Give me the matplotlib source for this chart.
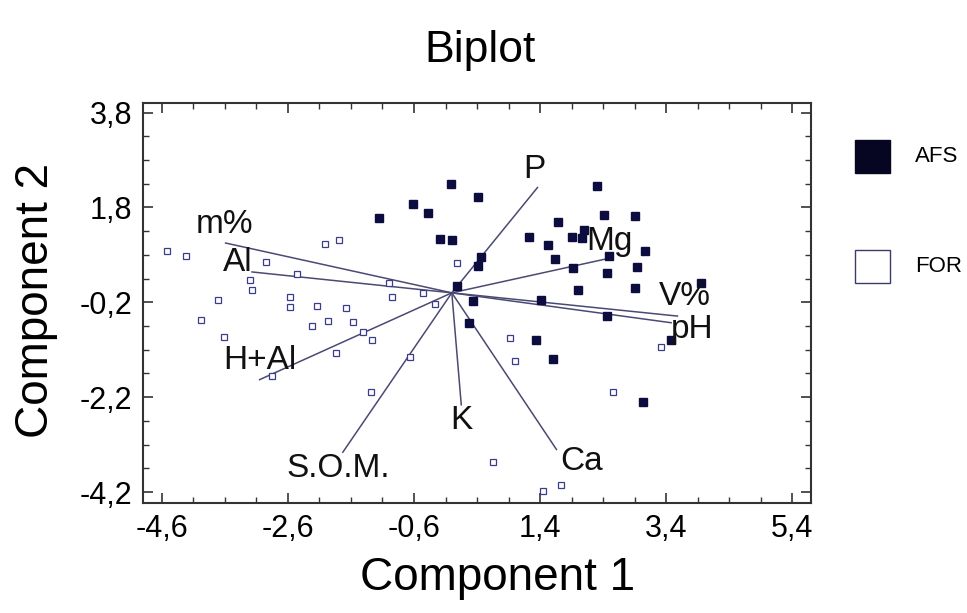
import numpy as np
import matplotlib
matplotlib.use("Agg")
import matplotlib.pyplot as plt
from matplotlib.patches import Rectangle
from matplotlib.ticker import FixedLocator, FuncFormatter

# scores, group AFS (filled squares)
afs_x = [-1.16, -0.62, -0.37, -0.02, 0.42, -0.18, 0.00, 0.46, 0.42, 0.09,
         0.33, 0.28, 1.23, 1.53, 1.64, 1.68, 1.42, 1.34, 2.31, 2.42,
         2.90, 1.90, 2.07, 2.10, 3.07, 2.50, 1.93, 2.94, 2.47, 2.01,
         2.90, 3.96, 2.47, 1.60, 3.48, 3.04]
afs_y = [1.57, 1.87, 1.68, 2.29, 2.01, 1.13, 1.11, 0.75, 0.56, 0.14,
         -0.17, -0.63, 1.17, 1.01, 0.71, 1.49, -0.15, -0.99, 2.25, 1.64,
         1.62, 1.17, 1.15, 1.32, 0.88, 0.77, 0.52, 0.54, 0.42, 0.06,
         0.10, 0.21, -0.49, -1.39, -0.99, -2.31]

# scores, group FOR (open squares)
for_x = [-4.52, -4.22, -2.95, -2.02, -1.79, -2.46, -3.21, -3.17, -3.71, -2.57,
         -2.57, -2.14, -1.68, -3.98, -2.22, -1.97, -1.57, -3.62, -1.41, -1.26,
         -1.83, -2.86, -0.67, -1.29, -0.99, -0.95, -0.45, -0.27, 0.09, 0.65,
         0.93, 1.01, 3.32, 2.55, 1.44, 1.74]
for_y = [0.88, 0.77, 0.65, 1.03, 1.11, 0.40, 0.27, 0.06, -0.15, -0.09,
         -0.30, -0.28, -0.32, -0.57, -0.70, -0.59, -0.61, -0.93, -0.82, -0.99,
         -1.26, -1.75, -1.35, -2.10, 0.21, -0.09, 0.00, -0.23, 0.63, -3.57,
         -0.95, -1.43, -1.14, -2.08, -4.18, -4.06]

# variable loadings
var_names = ["P", "m%", "Al", "H+Al", "S.O.M.", "K", "Ca", "Mg", "V%", "pH"]
load_x = [1.36, -3.59, -3.17, -3.05, -1.73, 0.15, 1.66, 2.50, 3.58, 3.48]
load_y = [2.22, 1.05, 0.44, -1.83, -3.36, -2.36, -3.30, 0.73, -0.49, -0.63]

x_ticks = [-4.6, -2.6, -0.6, 1.4, 3.4, 5.4]
y_ticks = [-4.2, -2.2, -0.2, 1.8, 3.8]

plt.rcParams['font.family'] = ['Liberation Sans', 'DejaVu Sans']

fig = plt.figure(figsize=(9.67, 6.13), dpi=100)
ax = fig.add_axes([0.1479, 0.1794, 0.6908, 0.6525])

line_col = "#4a4a74"
label_off = {"P": (-2, 13), "m%": (-1, 13), "Al": (-10, 6.5), "H+Al": (0, 14),
             "S.O.M.": (-3, -11.5), "K": (0, -11), "Ca": (18, -9),
             "Mg": (0, 12), "V%": (5, 14), "pH": (15, -5)}
for name, lx, ly in zip(var_names, load_x, load_y):
    ax.plot([0, lx], [0, ly], color=line_col, lw=1.1, zorder=2)
    ax.annotate(name, (lx, ly), xytext=label_off[name], textcoords="offset points",
                ha="center", va="center", fontsize=24, color="#111111", zorder=4)

ax.plot(for_x, for_y, linestyle="none", marker="s", ms=3.8, mfc="white",
        mec="#3c3c8c", mew=0.9, zorder=3)
ax.plot(afs_x, afs_y, linestyle="none", marker="s", ms=6, mfc="#0c0c3e",
        mec="#0c0c3e", zorder=3)

ax.set_xlim(-4.9, 5.7)
ax.set_ylim(-4.43, 4.0)
ax.xaxis.set_major_locator(FixedLocator(x_ticks))
ax.yaxis.set_major_locator(FixedLocator(y_ticks))
ax.xaxis.set_minor_locator(FixedLocator(np.arange(-4.6, 5.7, 0.5)))
ax.yaxis.set_minor_locator(FixedLocator(np.arange(-4.2, 4.0, 0.5)))
comma = FuncFormatter(lambda v, p: f"{v:.1f}".replace(".", ","))
ax.xaxis.set_major_formatter(comma)
ax.yaxis.set_major_formatter(comma)
ax.tick_params(which="both", direction="in", top=True, right=True,
               color="#333333", labelsize=22)
ax.tick_params(which="major", length=7, width=1.2, pad=8)
ax.tick_params(which="minor", length=4, width=1.0)
for s in ax.spines.values():
    s.set_color("#333333")
    s.set_linewidth(1.5)

fig.text(0.496, 0.899, "Biplot", ha="center", va="baseline", fontsize=32)
fig.text(0.515, 0.038, "Component 1", ha="center", va="baseline", fontsize=33)
fig.text(0.037, 0.51, "Component 2", ha="center", va="center", rotation=90,
         fontsize=33)

# legend
fig.add_artist(Rectangle((855 / 967, 1 - 173 / 613), 35 / 967, 33 / 613,
                         transform=fig.transFigure, facecolor="#060622",
                         edgecolor="#060622"))
fig.add_artist(Rectangle((855 / 967, 1 - 283 / 613), 35 / 967, 33 / 613,
                         transform=fig.transFigure, facecolor="white",
                         edgecolor="#3c3c6c", lw=1.0))
fig.text(915 / 967, 1 - 157 / 613, "AFS", ha="left", va="center", fontsize=16)
fig.text(915 / 967, 1 - 267 / 613, "FOR", ha="left", va="center", fontsize=16)

fig.savefig("out.png", dpi=100)
